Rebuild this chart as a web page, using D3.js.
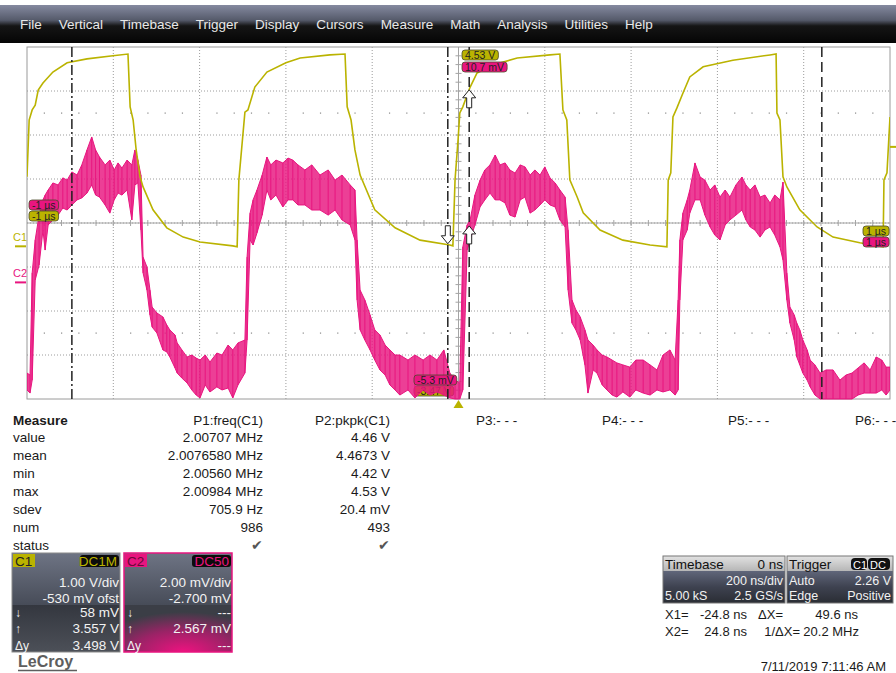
<!DOCTYPE html>
<html>
<head>
<meta charset="utf-8">
<script src="https://cdn.jsdelivr.net/npm/d3@7"></script>
<style>
  body { margin: 0; background: #fff; }
  svg { display: block; font-family: "Liberation Sans", Arial, sans-serif; }
</style>
</head>
<body>
<div id="scope"></div>
<script>
// ---- data ----
var menuItems = ["File", "Vertical", "Timebase", "Trigger", "Display", "Cursors", "Measure", "Math", "Analysis", "Utilities", "Help"];

// C1 trace breakpoints (time in ns, volts)
var c1Time = [-1000, -995, -988, -981, -974, -963, -940, -907, -861, -801, -766,
  -761, -754, -747, -738, -731, -708, -676, -638, -599, -523, -513,
  -509, -495, -488, -472, -444, -400, -367, -298, -263,
  -258, -249, -240, -228, -194, -147, -89, -20, -13,
  -8, -1, 3, 10, 27, 43, 80, 136, 212, 235,
  242, 251, 258, 275, 289, 328, 381, 444, 483,
  486, 492, 497, 506, 520, 536, 567, 636, 722, 736,
  738, 745, 752, 761, 791, 831, 868, 930, 984,
  986, 993, 1000];
var c1Volt = [1.58, 2.87, 3.10, 3.21, 3.55, 3.71, 3.96, 4.17, 4.26, 4.33, 4.37,
  3.17, 2.87, 2.19, 1.58, 1.35, 0.83, 0.42, 0.21, 0.10, 0.01, -0.01,
  1.51, 3.05, 3.10, 3.62, 3.96, 4.17, 4.28, 4.35, 4.37,
  3.17, 2.87, 2.19, 1.62, 0.83, 0.42, 0.14, 0.03, 0.01,
  1.51, 2.42, 3.03, 3.17, 3.62, 3.94, 4.12, 4.28, 4.35, 4.37,
  3.10, 2.87, 1.51, 1.12, 0.76, 0.37, 0.14, 0.03, -0.01,
  1.51, 1.67, 2.94, 3.14, 3.48, 3.85, 4.08, 4.23, 4.35, 4.37,
  3.03, 2.87, 1.58, 1.35, 0.83, 0.44, 0.21, 0.08, -0.01,
  1.51, 1.67, 2.94];

// C2 noisy trace: time (ns) with upper and lower edge of the noise band (mV)
var c2Time = [-1000, -993, -988, -981, -972, -963, -958, -951, -940, -928,
  -917, -907, -896, -884, -873, -861, -850, -841, -832, -819,
  -808, -798, -789, -780, -768, -757, -750, -743, -736, -731,
  -722, -715, -710, -699, -685, -676, -669, -657, -652, -641,
  -629, -618, -608, -599, -587, -576, -560, -548, -534, -523,
  -511, -495, -490, -483, -476, -467, -455, -444, -435, -423,
  -407, -395, -384, -372, -356, -340, -321, -302, -286, -270,
  -251, -240, -235, -228, -217, -205, -194, -182, -170, -159,
  -147, -136, -117, -101, -82, -66, -50, -34, -20, -8,
  3, 10, 20, 27, 38, 50, 61, 73, 85, 96,
  108, 119, 131, 143, 154, 166, 177, 189, 200, 212,
  224, 235, 247, 254, 263, 272, 282, 293, 300, 312,
  321, 333, 344, 356, 367, 381, 397, 411, 428, 444,
  460, 474, 490, 502, 509, 513, 520, 530, 536, 548,
  560, 571, 583, 594, 606, 618, 629, 643, 657, 666,
  676, 687, 699, 710, 722, 733, 745, 752, 761, 768,
  778, 784, 791, 798, 808, 815, 826, 838, 852, 868,
  884, 898, 912, 926, 940, 954, 968, 981, 991, 1000];
var c2High = [-4.12, -4.21, 0.43, 1.93, 3.06, 3.75, 3.97, 4.20, 4.52, 4.43,
  4.75, 4.65, 5.02, 4.88, 5.34, 6.02, 6.61, 6.02, 5.70, 5.34,
  5.56, 5.11, 5.43, 5.20, 5.56, 5.34, 6.02, 5.56, 4.88, 1.15,
  0.70, -0.35, -1.12, -1.39, -1.57, -1.94, -2.16, -2.39, -2.75, -3.07,
  -3.39, -3.30, -3.44, -3.53, -3.30, -3.62, -3.21, -3.30, -2.85, -3.07,
  -2.75, -2.62, 1.15, 3.15, 3.75, 4.20, 4.88, 5.70, 5.34, 5.56,
  5.43, 5.65, 5.56, 5.34, 5.11, 5.34, 4.88, 5.11, 4.65, 4.88,
  4.43, 4.20, 1.93, -0.35, -0.80, -1.48, -2.16, -2.39, -2.85, -3.07,
  -3.30, -3.30, -3.53, -3.30, -3.53, -3.30, -3.53, -3.07, -4.12, -4.44,
  -4.57, 1.61, 2.61, 2.84, 3.97, 4.65, 5.11, 5.34, 5.79, 5.34,
  5.43, 5.11, 4.97, 5.34, 5.25, 4.88, 5.11, 4.88, 5.25, 4.75,
  4.52, 4.20, 3.88, 2.38, -0.80, -1.25, -1.57, -2.16, -2.62, -2.85,
  -3.07, -3.30, -3.39, -3.53, -3.66, -3.75, -3.85, -3.53, -3.53, -3.75,
  -3.98, -3.30, -3.07, -3.53, -0.80, 1.93, 3.15, 3.75, 4.20, 5.43,
  4.79, 4.65, 4.20, 4.43, 3.88, 4.20, 3.88, 4.43, 4.79, 4.43,
  4.20, 4.43, 3.88, 3.97, 3.61, 3.97, 3.75, 4.56, 0.43, -1.12,
  -1.48, -1.85, -2.16, -2.62, -3.07, -3.53, -3.75, -4.12, -3.98, -3.98,
  -4.44, -4.21, -4.12, -3.89, -3.66, -3.98, -3.39, -3.53, -3.85, -3.85];
var c2Low = [-4.89, -5.03, -4.44, 0.11, 0.79, 2.38, 1.47, 2.61, 2.84, 3.06,
  3.38, 3.29, 3.52, 3.75, 3.84, 4.06, 4.43, 3.97, 3.88, 3.52,
  3.15, 3.75, 4.06, 3.97, 4.20, 2.84, 4.43, 4.52, 2.38, 0.43,
  -0.35, -1.48, -2.03, -2.30, -3.07, -3.16, -3.39, -3.89, -4.12, -4.35,
  -4.57, -4.89, -5.12, -5.25, -4.66, -4.98, -4.75, -4.89, -4.80, -5.25,
  -4.66, -4.12, -2.62, 1.93, 1.70, 2.25, 3.06, 4.20, 3.75, 3.97,
  3.43, 3.75, 3.75, 3.52, 3.52, 3.29, 3.29, 3.06, 3.29, 2.84,
  2.61, 1.93, -0.80, -2.16, -2.62, -3.07, -3.53, -3.98, -4.21, -4.66,
  -4.89, -5.12, -4.89, -5.25, -4.89, -5.12, -4.98, -5.12, -5.25, -5.30,
  -5.30, -4.89, 1.47, 1.93, 2.61, 3.43, 3.75, 4.06, 3.75, 3.75,
  3.61, 3.06, 2.97, 3.75, 3.88, 3.15, 3.29, 3.52, 3.75, 3.52,
  3.43, 2.84, 2.52, -0.35, -1.85, -2.16, -2.62, -3.75, -5.03, -3.98,
  -4.12, -4.66, -4.89, -5.12, -5.21, -4.98, -5.21, -4.89, -5.03, -5.12,
  -4.89, -4.98, -4.89, -5.12, -4.89, -0.80, 1.93, 2.38, 3.15, 3.75,
  3.75, 3.06, 2.52, 2.15, 1.93, 2.61, 2.84, 3.06, 3.29, 2.84,
  2.52, 2.38, 2.06, 2.38, 2.52, 2.15, 1.61, 1.02, -0.80, -1.85,
  -2.62, -3.39, -3.75, -4.12, -4.44, -4.75, -5.12, -5.30, -5.30, -5.30,
  -5.30, -5.30, -5.30, -5.12, -5.03, -5.03, -5.03, -4.89, -5.12, -4.89];

// cursors and markers
var cursorTimes = [-24.8, 24.8];      // X1, X2
var cursorC1 = [0.058, 3.557];        // C1 value at X1, X2
var cursorC2 = [null, 2.567];         // C2 value at X1, X2
var gateTimes = [-896, 842];
var triggerLevel = 2.26;

// measurement table
var measureRows = ["value", "mean", "min", "max", "sdev", "num", "status"];
var paramHeaders = ["P1:freq(C1)", "P2:pkpk(C1)", "P3:- - -", "P4:- - -", "P5:- - -", "P6:- - -"];
var p1Values = ["2.00707 MHz", "2.0076580 MHz", "2.00560 MHz", "2.00984 MHz", "705.9 Hz", "986", "\u2714"];
var p2Values = ["4.46 V", "4.4673 V", "4.42 V", "4.53 V", "20.4 mV", "493", "\u2714"];

// channel / timebase boxes
var c1Box = ["1.00 V/div", "-530 mV ofst", "58 mV", "3.557 V", "3.498 V"];
var c2Box = ["2.00 mV/div", "-2.700 mV", "---", "2.567 mV", "---"];
var timebaseBox = ["0 ns", "200 ns/div", "5.00 kS", "2.5 GS/s"];
var triggerBox = ["Auto", "2.26 V", "Edge", "Positive"];
var cursorReadout = [["X1=", "-24.8 ns", "\u0394X=", "49.6 ns"], ["X2=", "24.8 ns", "1/\u0394X=", "20.2 MHz"]];
var dateStamp = "7/11/2019 7:11:46 AM";

// ---- setup ----
var C1 = "#bab300", C2 = "#e8157f";
var svg = d3.select("#scope").append("svg").attr("width", 896).attr("height", 673);
var defs = svg.append("defs");

function linGrad(id, stops) {
  var g = defs.append("linearGradient").attr("id", id)
    .attr("x1", 0).attr("y1", 0).attr("x2", 0).attr("y2", 1);
  stops.forEach(function(s) { g.append("stop").attr("offset", s[0]).attr("stop-color", s[1]); });
}
linGrad("menuGrad", [[0, "#858aa0"], [0.4, "#555a6a"], [0.55, "#151515"], [1, "#050505"]]);
linGrad("boxTop", [[0, "#6e7484"], [1, "#474c58"]]);
linGrad("boxBot", [[0, "#34373f"], [1, "#4c5058"]]);
linGrad("tbTitle", [[0, "#e2e2e2"], [1, "#b6b6b6"]]);
linGrad("tbBody", [[0, "#60667a"], [0.5, "#3e4250"], [1, "#2a2d34"]]);
var rg = defs.append("radialGradient").attr("id", "c2Glow")
  .attr("cx", 0.55).attr("cy", 1).attr("r", 0.85);
rg.append("stop").attr("offset", 0).attr("stop-color", "#ee1280");
rg.append("stop").attr("offset", 0.55).attr("stop-color", "#9a2366");
rg.append("stop").attr("offset", 1).attr("stop-color", "#3b3e46");

// ---- menu bar ----
svg.append("rect").attr("x", 0).attr("y", 5).attr("width", 896).attr("height", 38)
  .attr("fill", "url(#menuGrad)");
var mx = 20;
menuItems.forEach(function(m) {
  var t = svg.append("text").attr("x", mx).attr("y", 29)
    .attr("font-size", 13.5).attr("fill", "#e8e8e8").text(m);
  mx += t.node().getComputedTextLength() + 17;
});

// ---- scales ----
var plot = { left: 27, right: 890, top: 47, bottom: 399 };
var x = d3.scaleLinear().domain([-1000, 1000]).range([plot.left, plot.right]);
var yC1 = d3.scaleLinear().domain([-3.47, 4.53]).range([plot.bottom, plot.top]);   // 1 V/div, -530 mV offset
var yC2 = d3.scaleLinear().domain([-5.3, 10.7]).range([plot.bottom, plot.top]);    // 2 mV/div, -2.7 mV offset

// ---- graticule ----
var grid = svg.append("g");
d3.range(-800, 1000, 200).forEach(function(t) {
  grid.append("line").attr("x1", x(t)).attr("x2", x(t)).attr("y1", plot.top).attr("y2", plot.bottom)
    .attr("stroke", "#9c9c9c").attr("stroke-dasharray", "1,2");
});
d3.range(1, 8).forEach(function(i) {
  var v = -3.47 + i;
  grid.append("line").attr("x1", plot.left).attr("x2", plot.right).attr("y1", yC1(v)).attr("y2", yC1(v))
    .attr("stroke", "#9c9c9c").attr("stroke-dasharray", "1,2");
});
// dotted rows at +/-2.5 div
[0.53 + 2.5, 0.53 - 2.5].forEach(function(v) {
  d3.range(-960, 1000, 40).forEach(function(t) {
    if (t % 200 === 0) return;
    grid.append("rect").attr("x", x(t) - 0.5).attr("y", yC1(v) - 0.5).attr("width", 1.2).attr("height", 1.2).attr("fill", "#888");
  });
});
// centre axes with minor ticks
grid.append("line").attr("x1", plot.left).attr("x2", plot.right).attr("y1", yC1(0.53)).attr("y2", yC1(0.53))
  .attr("stroke", "#a4a4a4");
grid.append("line").attr("x1", x(0)).attr("x2", x(0)).attr("y1", plot.top).attr("y2", plot.bottom)
  .attr("stroke", "#a4a4a4");
d3.range(-960, 1000, 40).forEach(function(t) {
  grid.append("line").attr("x1", x(t)).attr("x2", x(t)).attr("y1", yC1(0.53) - 3).attr("y2", yC1(0.53) + 3)
    .attr("stroke", "#a4a4a4");
});
d3.range(1, 40).forEach(function(i) {
  var v = -3.47 + i * 0.2;
  grid.append("line").attr("x1", x(0) - 3).attr("x2", x(0) + 3).attr("y1", yC1(v)).attr("y2", yC1(v))
    .attr("stroke", "#a4a4a4");
});
grid.append("rect").attr("x", plot.left).attr("y", plot.top)
  .attr("width", plot.right - plot.left).attr("height", plot.bottom - plot.top)
  .attr("fill", "none").attr("stroke", "#9a9a9a");

// ---- tags ----
function tag(g, x0, y0, label, fill, textFill) {
  var grp = g.append("g");
  var r = grp.append("rect").attr("x", x0).attr("y", y0).attr("height", 10).attr("rx", 3)
    .attr("fill", fill).attr("stroke", "#4a4a2a").attr("stroke-width", 0.8);
  var t = grp.append("text").attr("x", x0 + 3).attr("y", y0 + 8.6)
    .attr("font-size", 10.5).attr("fill", textFill).text(label);
  r.attr("width", t.node().getComputedTextLength() + 6);
}
var marks = svg.append("g");
// bottom olive tag sits under the traces
tag(marks, 414, 386, "-3.47 V", C1, "#222");

// ---- traces ----
defs.append("clipPath").attr("id", "plotClip").append("rect")
  .attr("x", plot.left).attr("y", plot.top)
  .attr("width", plot.right - plot.left).attr("height", plot.bottom - plot.top + 1);
var traces = svg.append("g").attr("clip-path", "url(#plotClip)");

// C2 noise band: dense fill, jagged edges and a spike per sample
var c2Area = d3.area()
  .x(function(d, i) { return x(c2Time[i]); })
  .y0(function(d, i) { return yC2(c2Low[i]); })
  .y1(function(d, i) { return yC2(c2High[i]); });
traces.append("path").datum(c2Time).attr("d", c2Area)
  .attr("fill", C2).attr("fill-opacity", 0.82);
var edge = function(vals) {
  return d3.line().x(function(d, i) { return x(c2Time[i]); }).y(function(d) { return yC2(d); })(vals);
};
traces.append("path").attr("d", edge(c2High)).attr("fill", "none").attr("stroke", C2).attr("stroke-width", 1);
traces.append("path").attr("d", edge(c2Low)).attr("fill", "none").attr("stroke", C2).attr("stroke-width", 1);
traces.selectAll(".spike").data(c2Time).enter().append("line").attr("class", "spike")
  .attr("x1", function(d) { return x(d); }).attr("x2", function(d) { return x(d); })
  .attr("y1", function(d, i) { return yC2(c2High[i]); })
  .attr("y2", function(d, i) { return yC2(c2Low[i]); })
  .attr("stroke", C2).attr("stroke-width", 1);

// C1
var c1Line = d3.line()
  .x(function(d, i) { return x(c1Time[i]); })
  .y(function(d, i) { return yC1(c1Volt[i]); });
traces.append("path").datum(c1Time).attr("d", c1Line)
  .attr("fill", "none").attr("stroke", C1).attr("stroke-width", 1.6);

// ---- cursors ----
var cur = svg.append("g");
cur.append("line").attr("x1", x(gateTimes[0])).attr("x2", x(gateTimes[0]))
  .attr("y1", plot.top).attr("y2", plot.bottom)
  .attr("stroke", "#222").attr("stroke-width", 1.5).attr("stroke-dasharray", "10,3,2,3");
cur.append("line").attr("x1", x(gateTimes[1])).attr("x2", x(gateTimes[1]))
  .attr("y1", plot.top).attr("y2", plot.bottom)
  .attr("stroke", "#222").attr("stroke-width", 1.5).attr("stroke-dasharray", "10,5");
cur.append("line").attr("x1", x(cursorTimes[0])).attr("x2", x(cursorTimes[0]))
  .attr("y1", plot.top).attr("y2", plot.bottom)
  .attr("stroke", "#222").attr("stroke-width", 1.5).attr("stroke-dasharray", "10,3,2,3");
cur.append("line").attr("x1", x(cursorTimes[1])).attr("x2", x(cursorTimes[1]))
  .attr("y1", plot.top).attr("y2", plot.bottom)
  .attr("stroke", "#222").attr("stroke-width", 1.5).attr("stroke-dasharray", "10,5");

function arrow(g, cx, tipY, up) {
  var s = up ? 1 : -1;
  var pts = [[cx, tipY], [cx + 6.5, tipY + 8 * s], [cx + 2.5, tipY + 8 * s], [cx + 2.5, tipY + 18 * s],
    [cx - 2.5, tipY + 18 * s], [cx - 2.5, tipY + 8 * s], [cx - 6.5, tipY + 8 * s]];
  g.append("path").attr("d", d3.line()(pts) + "Z")
    .attr("fill", "#fff").attr("stroke", "#222").attr("stroke-width", 1);
}
arrow(cur, x(cursorTimes[0]), yC1(cursorC1[0]), false);
arrow(cur, x(cursorTimes[1]), yC1(cursorC1[1]), true);
arrow(cur, x(cursorTimes[1]), yC2(cursorC2[1]), true);

// ---- edge tags & markers ----
var tags = svg.append("g");
tag(tags, 29, 200, "-1 \u00b5s", C2, "#222");
tag(tags, 29, 211, "-1 \u00b5s", C1, "#222");
tag(tags, 462, 50, "4.53 V", C1, "#222");
tag(tags, 462, 62, "10.7 mV", C2, "#222");
tag(tags, 414, 375, "-5.3 mV", C2, "#222");
tag(tags, 863, 226, "1 \u00b5s", C1, "#222");
tag(tags, 863, 237, "1 \u00b5s", C2, "#222");

// ground markers
tags.append("text").attr("x", 13).attr("y", yC1(0) - 5).attr("font-size", 11).attr("fill", C1).text("C1");
tags.append("line").attr("x1", 15).attr("x2", 26).attr("y1", yC1(0)).attr("y2", yC1(0))
  .attr("stroke", C1).attr("stroke-width", 2);
tags.append("text").attr("x", 13).attr("y", yC2(0) - 5).attr("font-size", 11).attr("fill", C2).text("C2");
tags.append("line").attr("x1", 15).attr("x2", 26).attr("y1", yC2(0)).attr("y2", yC2(0))
  .attr("stroke", C2).attr("stroke-width", 2);
// trigger position and level
tags.append("path").attr("d", d3.line()([[x(0), plot.bottom + 1], [x(0) + 5, plot.bottom + 9], [x(0) - 5, plot.bottom + 9]]) + "Z")
  .attr("fill", C1);
tags.append("line").attr("x1", plot.right).attr("x2", 896).attr("y1", yC1(triggerLevel)).attr("y2", yC1(triggerLevel))
  .attr("stroke", C1).attr("stroke-width", 2);

// ---- measurement table ----
var mt = svg.append("g").attr("font-size", 13.5).attr("fill", "#1a1a1a");
mt.append("text").attr("x", 13).attr("y", 425).attr("font-weight", "bold").text("Measure");
var colRight = [263, 390];
var colLeft = [476, 602, 728, 855];
paramHeaders.forEach(function(h, i) {
  if (i < 2) mt.append("text").attr("x", colRight[i]).attr("y", 425).attr("text-anchor", "end").text(h);
  else mt.append("text").attr("x", colLeft[i - 2]).attr("y", 425).text(h);
});
measureRows.forEach(function(r, i) {
  var yy = 442 + i * 18;
  mt.append("text").attr("x", 13).attr("y", yy).text(r);
  [p1Values, p2Values].forEach(function(col, j) {
    mt.append("text").attr("x", colRight[j]).attr("y", yy).attr("text-anchor", "end")
      .attr("fill", col[i] === "\u2714" ? "#555" : "#1a1a1a").text(col[i]);
  });
});

// ---- channel boxes ----
function chanBox(x0, name, coupling, color, vals, isC2) {
  var g = svg.append("g").attr("font-size", 13.5);
  g.append("rect").attr("x", x0).attr("y", 553).attr("width", 108).attr("height", 52).attr("fill", "url(#boxTop)");
  g.append("rect").attr("x", x0).attr("y", 605).attr("width", 108).attr("height", 47)
    .attr("fill", isC2 ? "url(#c2Glow)" : "url(#boxBot)");
  g.append("rect").attr("x", x0).attr("y", 553).attr("width", 108).attr("height", 99)
    .attr("fill", "none").attr("stroke", isC2 ? color : "#8a8a8a").attr("stroke-width", isC2 ? 1.5 : 1);
  g.append("rect").attr("x", x0 + 1).attr("y", 554).attr("width", 22).attr("height", 13).attr("fill", color);
  g.append("text").attr("x", x0 + 3).attr("y", 566).attr("fill", isC2 ? "#6a0a38" : "#222").text(name);
  g.append("rect").attr("x", x0 + 68).attr("y", 555).attr("width", 39).attr("height", 12).attr("rx", 3).attr("fill", "#0c0c0c");
  g.append("text").attr("x", x0 + 105).attr("y", 566).attr("text-anchor", "end").attr("fill", color).text(coupling);
  var ys = [587, 603, 617, 633, 650];
  vals.forEach(function(v, i) {
    g.append("text").attr("x", x0 + 107).attr("y", ys[i]).attr("text-anchor", "end").attr("fill", "#f2f2f2").text(v);
  });
  ["\u2193", "\u2191", "\u0394y"].forEach(function(s, i) {
    g.append("text").attr("x", x0 + 3).attr("y", ys[i + 2]).attr("fill", "#f2f2f2").attr("font-size", 12).text(s);
  });
}
chanBox(12, "C1", "DC1M", C1, c1Box, false);
chanBox(124, "C2", "DC50", C2, c2Box, true);

// LeCroy logo
svg.append("text").attr("x", 18).attr("y", 667).attr("font-size", 16).attr("font-weight", "bold")
  .attr("fill", "#5e5e5e").text("LeCroy");
svg.append("line").attr("x1", 18).attr("x2", 77).attr("y1", 670.5).attr("y2", 670.5)
  .attr("stroke", "#5e5e5e").attr("stroke-width", 1.5);

// ---- timebase / trigger boxes ----
function infoBox(x0, w, title) {
  var g = svg.append("g").attr("font-size", 12.5);
  g.append("rect").attr("x", x0).attr("y", 556).attr("width", w).attr("height", 15).attr("fill", "url(#tbTitle)");
  g.append("rect").attr("x", x0).attr("y", 571).attr("width", w).attr("height", 32).attr("fill", "url(#tbBody)");
  g.append("rect").attr("x", x0).attr("y", 556).attr("width", w).attr("height", 47)
    .attr("fill", "none").attr("stroke", "#777");
  g.append("text").attr("x", x0 + 2).attr("y", 568.5).attr("font-size", 13.5).attr("fill", "#111").text(title);
  return g;
}
var tb = infoBox(663, 122, "Timebase");
tb.append("text").attr("x", 783).attr("y", 568.5).attr("font-size", 13.5).attr("text-anchor", "end").attr("fill", "#111").text(timebaseBox[0]);
tb.append("text").attr("x", 783).attr("y", 585).attr("text-anchor", "end").attr("fill", "#f2f2f2").text(timebaseBox[1]);
tb.append("text").attr("x", 665).attr("y", 600).attr("fill", "#f2f2f2").text(timebaseBox[2]);
tb.append("text").attr("x", 783).attr("y", 600).attr("text-anchor", "end").attr("fill", "#f2f2f2").text(timebaseBox[3]);

var tr = infoBox(787, 106, "Trigger");
tr.append("rect").attr("x", 851).attr("y", 558).attr("width", 16).attr("height", 12).attr("rx", 4).attr("fill", "#111");
tr.append("rect").attr("x", 868).attr("y", 558).attr("width", 22).attr("height", 12).attr("rx", 4).attr("fill", "#111");
tr.append("text").attr("x", 853).attr("y", 568.5).attr("font-size", 11).attr("fill", "#fff").text("C1");
tr.append("text").attr("x", 870).attr("y", 568.5).attr("font-size", 11).attr("fill", "#fff").text("DC");
tr.append("text").attr("x", 789).attr("y", 585).attr("fill", "#f2f2f2").text(triggerBox[0]);
tr.append("text").attr("x", 891).attr("y", 585).attr("text-anchor", "end").attr("fill", "#f2f2f2").text(triggerBox[1]);
tr.append("text").attr("x", 789).attr("y", 600).attr("fill", "#f2f2f2").text(triggerBox[2]);
tr.append("text").attr("x", 891).attr("y", 600).attr("text-anchor", "end").attr("fill", "#f2f2f2").text(triggerBox[3]);

// cursor readout
var cr = svg.append("g").attr("font-size", 13).attr("fill", "#1a1a1a");
var crRight = [[null, 747, 783, 858], [null, 747, 800, 859]];
cursorReadout.forEach(function(row, i) {
  var yy = 619 + i * 17;
  cr.append("text").attr("x", 665).attr("y", yy).text(row[0]);
  for (var j = 1; j < 4; j++) {
    cr.append("text").attr("x", crRight[i][j]).attr("y", yy).attr("text-anchor", "end").text(row[j]);
  }
});
cr.append("text").attr("x", 886).attr("y", 671).attr("text-anchor", "end").text(dateStamp);
</script>
</body>
</html>
